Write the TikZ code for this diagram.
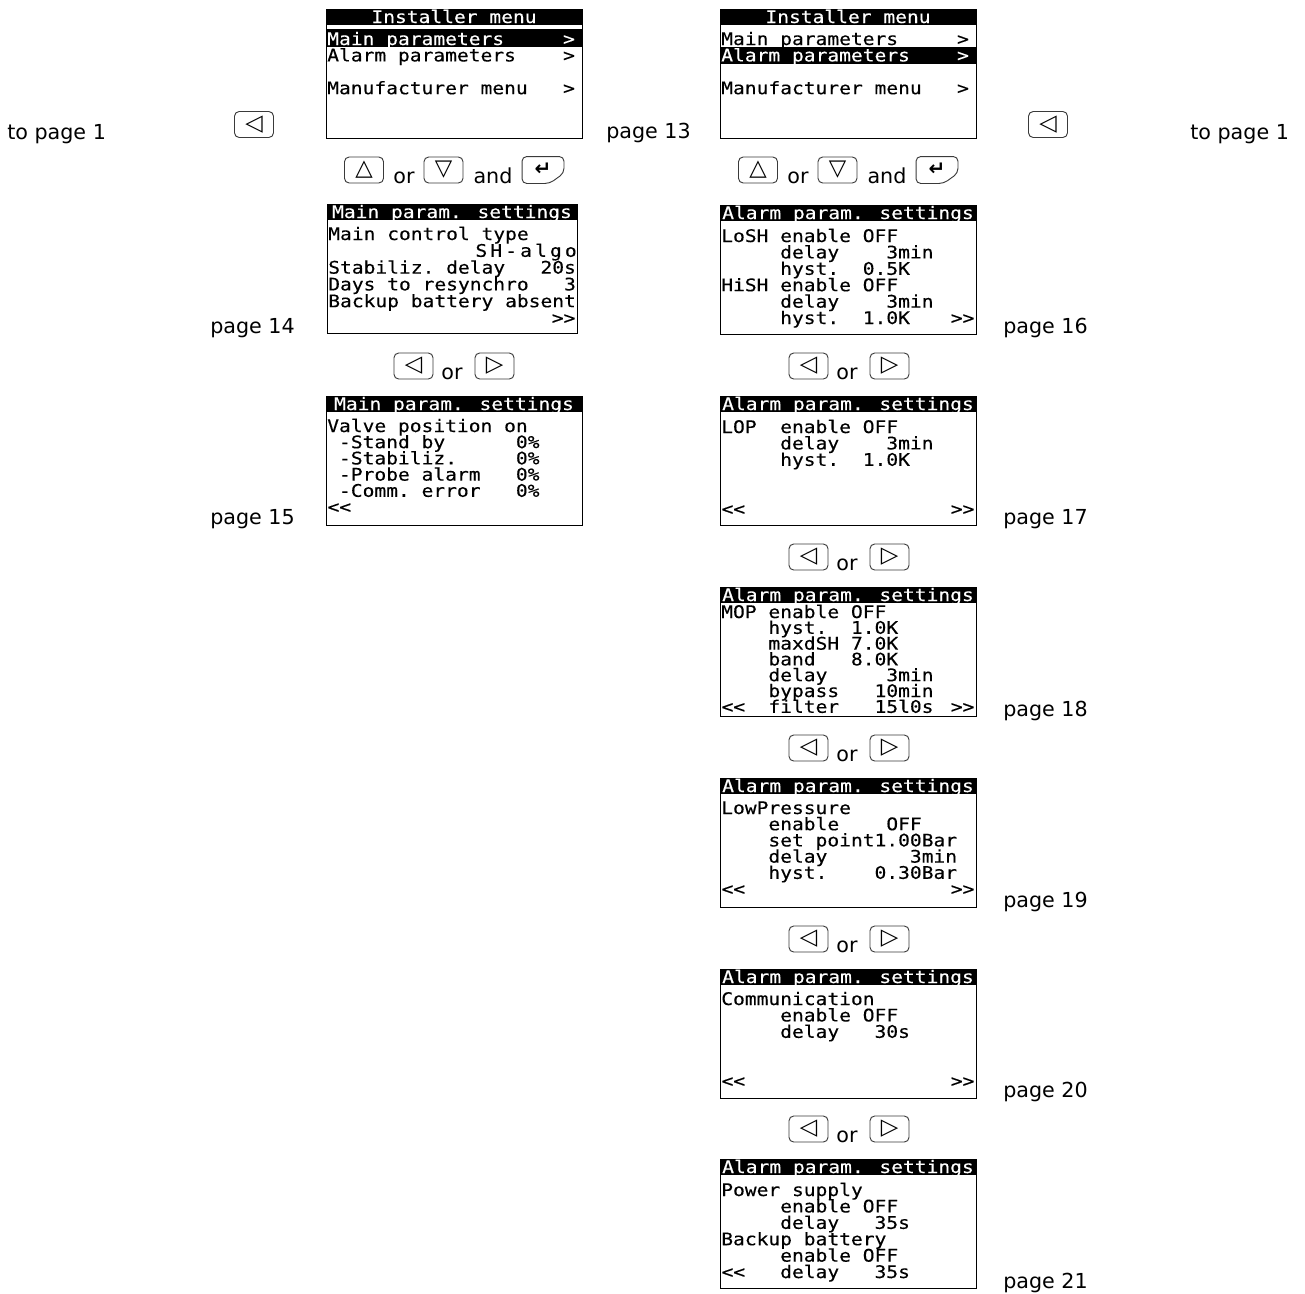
\documentclass[tikz,border=0pt]{standalone}
\usepackage{fontspec}
\setmainfont{DejaVu Sans}
\newfontfamily\lcdfont[FakeStretch=1.13, FakeBold=0.3, Ligatures=ResetAll]{DejaVu Sans Mono}
\usetikzlibrary{arrows.meta, positioning}
\definecolor{keyGray}{HTML}{3A3A3A}

\newcommand{\lcdscreen}[8]{%
  \node[scrframe, minimum width=#4*0.75pt] (#1) at (#2,#3) {};
  \node[scrbar, minimum width=#4*0.75pt] (#1-bar) at (#2,#3) {};
  \node[lcd, text=white, anchor=base] (#1-title) at (#2+#4/2,#3+14) {#5};
  \foreach \ln [count=\i] in {#8}
    \node[lcd, anchor=base west] (#1-\i) at (#2+1,#3+#6+#7*\i-#7) {\ln};
}

\begin{document}
\begin{tikzpicture}[x=0.75pt, y=-0.75pt,
    lcd/.style={font=\lcdfont\fontsize{13}{13}\selectfont, inner sep=0pt},
    scrframe/.style={draw, line width=0.75pt, anchor=north west,
      minimum height=96.75pt, inner sep=0pt, outer sep=0pt},
    scrbar/.style={fill=black, anchor=north west, minimum height=12pt,
      inner sep=0pt, outer sep=0pt},
    keybox/.style={draw=keyGray, line width=0.7pt, rounded corners=3.5pt,
      minimum width=29.25pt, minimum height=19.5pt, inner sep=0pt,
      font=\fontsize{17}{17}\selectfont},
    lbl/.style={font=\fontsize{15.5}{18}\selectfont, inner sep=0pt}]
  \useasboundingbox (0,0) rectangle (1305,1293);

  % installer menus
  \fill (326,29) rectangle (582,47);
  \lcdscreen{inst1}{326}{9}{256}{Installer menu}{36}{16.4}%
    {\color{white}Main~parameters~~~~~>,Alarm~parameters~~~~>,{},Manufacturer~menu~~~>}
  \fill (720,47) rectangle (976,64);
  \lcdscreen{inst2}{720}{9}{256}{Installer menu}{36}{16.4}%
    {Main~parameters~~~~~>,\color{white}Alarm~parameters~~~~>,{},Manufacturer~menu~~~>}

  \node[lbl, anchor=base west] (back1) at (7,139) {to page 1};
  \node[keybox] (kback1) at (254,124.5) {◁};
  \node[lbl, anchor=base west] (pg13) at (606,138) {page 13};
  \node[keybox] (kback2) at (1048,124.5) {◁};
  \node[lbl, anchor=base west] (back2) at (1190,139) {to page 1};

  % up / down and enter
  \foreach \dx/\s in {0/a, 394/b} {
    \node[keybox] (kup-\s) at (364+\dx,170) {△};
    \node[lbl, anchor=base] (or-\s) at (404+\dx,183) {or};
    \node[keybox] (kdown-\s) at (443.5+\dx,170) {▽};
    \node[lbl, anchor=base] (and-\s) at (493+\dx,183) {and};
    \node[keybox, draw=none, font=\bfseries\fontsize{15}{15}\selectfont] (kent-\s) at (543+\dx,169) {↵};
    \draw[keyGray, line width=0.7pt, rounded corners=3.5pt]
      ([xshift=-0.75pt,yshift=-0.75pt]kent-\s.north west) -- ([xshift=0.75pt,yshift=-0.75pt]kent-\s.north east)
      -- ([xshift=0.75pt,yshift=7pt]kent-\s.south east)
      -- ([xshift=-10pt,yshift=-0.75pt]kent-\s.south east) -- ([xshift=-0.75pt,yshift=-0.75pt]kent-\s.south west) -- cycle;
  }

  % main parameters
  \lcdscreen{p14}{327}{204}{250}{Main param. settings}{36}{16.8}%
    {Main~control~type,{},Stabiliz.~delay~~~20s,Days~to~resynchro~~~3,Backup~battery~absent,{}}
  \node[lcd, anchor=base east] (p14-algo) at ([xshift=0pt]p14.east |- p14-2.base)
    {\addfontfeature{LetterSpace=18}SH-algo};
  \node[lcd, anchor=base east] (p14-next) at ([xshift=-1pt]p14.east |- p14-6.base) {>>};
  \node[lbl, anchor=base east] (pg14) at (295,333) {page 14};

  \node[keybox] (kl-0) at (413.5,366) {◁};
  \node[lbl, anchor=base] (lor-0) at (452,379) {or};
  \node[keybox] (kr-0) at (494.5,366) {▷};

  \lcdscreen{p15}{326}{396}{256}{Main param. settings}{36}{16.2}%
    {Valve~position~on,~-Stand~by~~~~~~0\%,~-Stabiliz.~~~~~0\%,~-Probe~alarm~~~0\%,~-Comm.~error~~~0\%,{}}
  \node[lcd, anchor=base west] (p15-prev) at ([xshift=1pt]p15.west |- p15-6.base) {<<};
  \node[lbl, anchor=base east] (pg15) at (295,524) {page 15};

  % alarm parameters
  \lcdscreen{p16}{720}{205}{256}{Alarm param. settings}{37}{16.4}%
    {LoSH~enable~OFF,~~~~~delay~~~~3min,~~~~~hyst.~~0.5K,HiSH~enable~OFF,~~~~~delay~~~~3min,~~~~~hyst.~~1.0K}
  \node[lcd, anchor=base east] (p16-next) at ([xshift=-1pt]p16.east |- p16-6.base) {>>};
  \node[lbl, anchor=base west] (pg16) at (1003,333) {page 16};

  \lcdscreen{p17}{720}{396}{256}{Alarm param. settings}{37}{16.4}%
    {LOP~~enable~OFF,~~~~~delay~~~~3min,~~~~~hyst.~~1.0K,{},{},{}}
  \node[lcd, anchor=base west] (p17-prev) at ([xshift=1pt]p17.west |- p17-6.base) {<<};
  \node[lcd, anchor=base east] (p17-next) at ([xshift=-1pt]p17.east |- p17-6.base) {>>};
  \node[lbl, anchor=base west] (pg17) at (1003,524) {page 17};

  \lcdscreen{p18}{720}{587}{256}{Alarm param. settings}{31}{15.8}%
    {MOP~enable~OFF,~~~~hyst.~~1.0K,~~~~maxdSH~7.0K,~~~~band~~~8.0K,~~~~delay~~~~~3min,~~~~bypass~~~10min,~~~~filter~~~15l0s}
  \node[lcd, anchor=base west] (p18-prev) at ([xshift=1pt]p18.west |- p18-7.base) {<<};
  \node[lcd, anchor=base east] (p18-next) at ([xshift=-1pt]p18.east |- p18-7.base) {>>};
  \node[lbl, anchor=base west] (pg18) at (1003,716) {page 18};

  \lcdscreen{p19}{720}{778}{256}{Alarm param. settings}{36}{16.2}%
    {LowPressure,~~~~enable~~~~OFF,~~~~set~point1.00Bar,~~~~delay~~~~~~~3min,~~~~hyst.~~~~0.30Bar,{}}
  \node[lcd, anchor=base west] (p19-prev) at ([xshift=1pt]p19.west |- p19-6.base) {<<};
  \node[lcd, anchor=base east] (p19-next) at ([xshift=-1pt]p19.east |- p19-6.base) {>>};
  \node[lbl, anchor=base west] (pg19) at (1003,907) {page 19};

  \lcdscreen{p20}{720}{969}{256}{Alarm param. settings}{36}{16.4}%
    {Communication,~~~~~enable~OFF,~~~~~delay~~~30s,{},{},{}}
  \node[lcd, anchor=base west] (p20-prev) at ([xshift=1pt]p20.west |- p20-6.base) {<<};
  \node[lcd, anchor=base east] (p20-next) at ([xshift=-1pt]p20.east |- p20-6.base) {>>};
  \node[lbl, anchor=base west] (pg20) at (1003,1097) {page 20};

  \lcdscreen{p21}{720}{1159}{256}{Alarm param. settings}{37}{16.4}%
    {Power~supply,~~~~~enable~OFF,~~~~~delay~~~35s,Backup~battery,~~~~~enable~OFF,~~~~~delay~~~35s}
  \node[lcd, anchor=base west] (p21-prev) at ([xshift=1pt]p21.west |- p21-6.base) {<<};
  \node[lbl, anchor=base west] (pg21) at (1003,1288) {page 21};

  \foreach \y [count=\k] in {366,557,748,939,1129} {
    \node[keybox] (kl-\k) at (808.5,\y) {◁};
    \node[lbl, anchor=base] (lor-\k) at (847,\y+13) {or};
    \node[keybox] (kr-\k) at (889.5,\y) {▷};
  }
\end{tikzpicture}
\end{document}
